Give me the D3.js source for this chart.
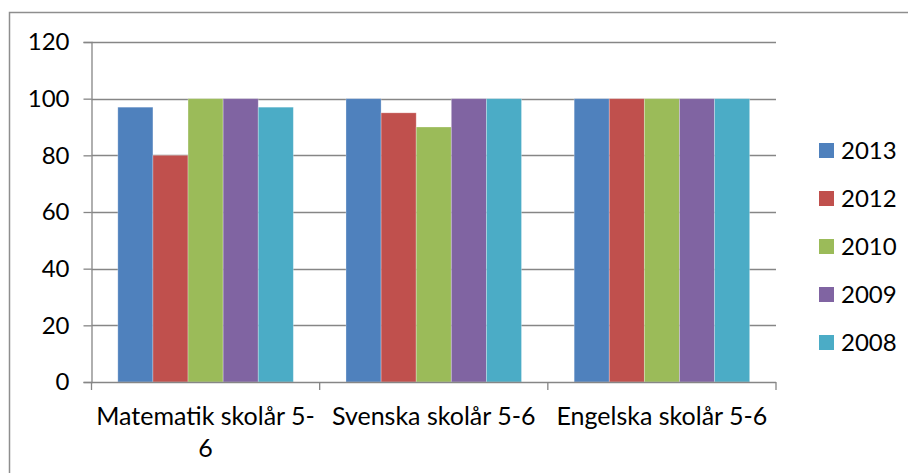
<!DOCTYPE html>
<html>
<head>
<meta charset="utf-8">
<script src="https://cdn.jsdelivr.net/npm/d3@7"></script>
<style>
  html, body { margin: 0; padding: 0; background: #fff; }
  svg { display: block; }
  text { font-family: Lato, "Open Sans", sans-serif; fill: #000; }
</style>
</head>
<body>
<svg id="chart" width="908" height="473"></svg>
<script>
const categories = ["Matematik skolår 5-6", "Svenska skolår 5-6", "Engelska skolår 5-6"];
const categoryLines = [["Matematik skolår 5-", "6"], ["Svenska skolår 5-6"], ["Engelska skolår 5-6"]];
const series = ["2013", "2012", "2010", "2009", "2008"];
const colors = ["#4F81BD", "#C0504D", "#9BBB59", "#8064A2", "#4BACC6"];
const values = {
  "2013": [97, 100, 100],
  "2012": [80, 95, 100],
  "2010": [100, 90, 100],
  "2009": [100, 100, 100],
  "2008": [97, 100, 100]
};
const yTicks = [0, 20, 40, 60, 80, 100, 120];

const svg = d3.select("#chart");
const mLeft = 91.5, mRight = 776, mTop = 42, mBottom = 382;
const fontSize = 23;
const catFontSize = 25;

// outer border
svg.append("rect").attr("x", 9.5).attr("y", 12.5).attr("width", 1000).attr("height", 1000)
  .attr("fill", "none").attr("stroke", "#8e8e8e").attr("stroke-width", 1.5);

const x0 = d3.scaleBand().domain(categories).range([mLeft, mRight]).paddingInner(0).paddingOuter(0);
const x1 = d3.scaleBand().domain(series).range([0, x0.bandwidth()]).paddingInner(0).paddingOuter(0.75);
const y = d3.scaleLinear().domain([0, 120]).range([mBottom, mTop]);

// gridlines
svg.append("g").selectAll("line").data(yTicks.filter(d => d > 0)).join("line")
  .attr("x1", mLeft).attr("x2", mRight)
  .attr("y1", d => Math.round(y(d)) + 0.5).attr("y2", d => Math.round(y(d)) + 0.5)
  .attr("stroke", "#868686").attr("stroke-width", 1.3);

// bars
const groups = svg.append("g").selectAll("g").data(categories).join("g")
  .attr("transform", d => `translate(${x0(d)},0)`);
groups.selectAll("rect").data((c, i) => series.map((s, j) => ({ s, j, v: values[s][i] }))).join("rect")
  .attr("x", d => x1(d.s))
  .attr("width", x1.bandwidth())
  .attr("y", d => y(d.v))
  .attr("height", d => y(0) - y(d.v))
  .attr("fill", (d) => colors[d.j])
  .attr("stroke", "rgba(255,255,255,0.35)").attr("stroke-width", 0.8);

// y axis
const yAxis = d3.axisLeft(y).tickValues(yTicks).tickSize(8).tickPadding(14);
const gy = svg.append("g").attr("transform", `translate(${mLeft},0)`).call(yAxis);
gy.select(".domain").attr("stroke", "#868686").attr("stroke-width", 1.3);
gy.selectAll(".tick line").attr("stroke", "#868686").attr("stroke-width", 1.3);
gy.selectAll(".tick text").attr("font-size", 24).attr("font-family", "Lato, sans-serif").attr("fill", "#000");

// x axis
const xAxisLine = svg.append("g");
xAxisLine.append("line").attr("x1", mLeft).attr("x2", mRight).attr("y1", mBottom + 0.5).attr("y2", mBottom + 0.5)
  .attr("stroke", "#868686").attr("stroke-width", 1.3);
const boundaries = categories.map(c => x0(c)).concat([x0(categories[categories.length - 1]) + x0.bandwidth()]);
xAxisLine.selectAll("line.t").data(boundaries).join("line").attr("class", "t")
  .attr("x1", d => d).attr("x2", d => d).attr("y1", mBottom).attr("y2", mBottom + 8)
  .attr("stroke", "#868686").attr("stroke-width", 1.3);

svg.append("g").selectAll("text").data(categories).join("text")
  .attr("x", d => x0(d) + x0.bandwidth() / 2)
  .attr("y", 425)
  .attr("text-anchor", "middle")
  .attr("font-size", catFontSize)
  .each(function(d, i) {
    const t = d3.select(this);
    categoryLines[i].forEach((line, k) => {
      t.append("tspan").attr("x", x0(d) + x0.bandwidth() / 2).attr("dy", k === 0 ? 0 : 32).text(line);
    });
  });

// legend
const legend = svg.append("g");
const lg = legend.selectAll("g").data(series).join("g")
  .attr("transform", (d, i) => `translate(819, ${151 + i * 48})`);
lg.append("rect").attr("x", 0).attr("y", -8).attr("width", 15).attr("height", 15).attr("fill", (d, i) => colors[i]);
lg.append("text").attr("x", 22).attr("y", 0).attr("dy", "0.35em").attr("font-size", 24).text(d => d);
</script>
</body>
</html>
